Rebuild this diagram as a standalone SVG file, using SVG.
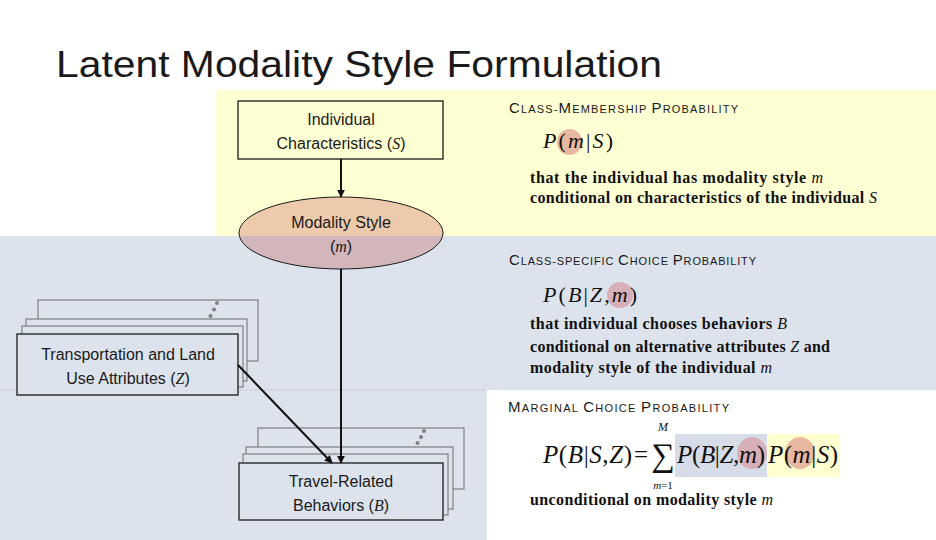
<svg xmlns="http://www.w3.org/2000/svg" width="936" height="540" viewBox="0 0 936 540">
<style>
.sans{font-family:"Liberation Sans",Arial,sans-serif;fill:#1a1a1a}
.lbl{font-size:16px;text-anchor:middle}
.ser{font-family:"Liberation Serif","Times New Roman",serif;fill:#111}
.body{font-size:16px;font-weight:bold}
.mi{font-style:italic;font-weight:normal}
.hdr{font-size:11px}
.big{font-size:15px}
.node{stroke:#1a1a1a;stroke-width:1.3}
.stack{stroke:#7f7f7f;stroke-width:1.2;fill:#dce3ed}
.dot{fill:#7f7f7f}
.conn{stroke:#111;stroke-width:2;fill:none;marker-end:url(#ah)}
.f{font-size:22px}
</style>
<defs>
<marker id="ah" viewBox="0 0 10 10" refX="9" refY="5" markerWidth="4" markerHeight="4" orient="auto" markerUnits="strokeWidth">
<path d="M0,0 L10,5 L0,10 z" fill="#111"/>
</marker>
</defs>
<rect x="0" y="0" width="936" height="540" fill="#ffffff"/>
<g id="backgrounds">
<rect x="216" y="90" width="720" height="146" fill="#ffffd4"/>
<rect x="0" y="236" width="936" height="154" fill="#dce3ed"/>
<rect x="0" y="390" width="487" height="150" fill="#dce3ed"/>
<line x1="0" y1="390" x2="487" y2="390" stroke="#c9ced6" stroke-width="1"/>
</g>
<text class="sans" x="56" y="77" font-size="36" textLength="606" lengthAdjust="spacingAndGlyphs">Latent Modality Style Formulation</text>

<g id="node-individual">
<rect class="node" x="238" y="101" width="205" height="58" fill="#ffffd4"/>
<text class="sans lbl" x="341" y="125">Individual</text>
<text class="sans lbl" x="341" y="149">Characteristics  (<tspan font-style="italic" font-family="Liberation Serif,serif">S</tspan>)</text>
</g>

<g id="node-modality">
<ellipse cx="341" cy="233" rx="102" ry="36" fill="#c0504d" fill-opacity="0.3" stroke="#1a1a1a" stroke-width="1"/>
<text class="sans lbl" x="341" y="228" fill="#333">Modality Style</text>
<text class="sans lbl" x="341" y="252">(<tspan font-style="italic" font-family="Liberation Serif,serif">m</tspan>)</text>
</g>

<g id="node-transport">
<rect class="stack" x="38" y="300" width="220" height="61"/>
<circle class="dot" cx="217" cy="303" r="2"/>
<circle class="dot" cx="214" cy="309.5" r="2"/>
<circle class="dot" cx="210.5" cy="316" r="2"/>
<rect class="stack" x="26" y="319" width="221" height="62"/>
<rect class="stack" x="22" y="326" width="221" height="61"/>
<rect class="node" x="17" y="334" width="221" height="61" fill="#dce3ed"/>
<text class="sans lbl" x="128" y="360">Transportation and Land</text>
<text class="sans lbl" x="128" y="384">Use Attributes (<tspan font-style="italic" font-family="Liberation Serif,serif">Z</tspan>)</text>
</g>

<g id="node-travel">
<rect class="stack" x="258" y="428" width="206" height="61"/>
<circle class="dot" cx="424" cy="431" r="2"/>
<circle class="dot" cx="421" cy="437" r="2"/>
<circle class="dot" cx="417.5" cy="443" r="2"/>
<rect class="stack" x="246" y="447" width="207" height="62"/>
<rect class="stack" x="243" y="454" width="205" height="61"/>
<rect class="node" x="239" y="463" width="204" height="57" fill="#dce3ed"/>
<text class="sans lbl" x="341" y="487">Travel-Related</text>
<text class="sans lbl" x="341" y="511">Behaviors (<tspan font-style="italic" font-family="Liberation Serif,serif">B</tspan>)</text>
</g>

<g id="connectors">
<line class="conn" x1="341" y1="159" x2="341" y2="197"/>
<line class="conn" x1="341" y1="269" x2="341" y2="463"/>
<line class="conn" x1="238" y1="365" x2="332" y2="463"/>
</g>

<g id="class-membership">
<text class="sans hdr" x="509" y="113" textLength="229"><tspan class="big">C</tspan>LASS-<tspan class="big">M</tspan>EMBERSHIP <tspan class="big">P</tspan>ROBABILITY</text>
<ellipse cx="569.5" cy="142" rx="12.5" ry="13" fill="#e8b9a0"/>
<text class="ser f" x="543" y="148" textLength="70"><tspan font-style="italic">P</tspan>(<tspan font-style="italic">m</tspan>|<tspan font-style="italic">S</tspan>)</text>
<text class="ser body" x="530" y="183" textLength="293">that the individual has modality style <tspan class="mi">m</tspan></text>
<text class="ser body" x="530" y="203" textLength="347">conditional on characteristics of the individual <tspan class="mi">S</tspan></text>
</g>

<g id="class-specific">
<text class="sans hdr" x="509" y="265" textLength="247"><tspan class="big">C</tspan>LASS-SPECIFIC <tspan class="big">C</tspan>HOICE <tspan class="big">P</tspan>ROBABILITY</text>
<ellipse cx="620" cy="295" rx="13" ry="13" fill="#d7afb9"/>
<text class="ser f" x="543" y="302" textLength="94"><tspan font-style="italic">P</tspan>(<tspan font-style="italic">B</tspan>|<tspan font-style="italic">Z</tspan>,<tspan font-style="italic">m</tspan>)</text>
<text class="ser body" x="530" y="329" textLength="257">that individual chooses behaviors <tspan class="mi">B</tspan></text>
<text class="ser body" x="530" y="352" textLength="300">conditional on alternative attributes <tspan class="mi">Z</tspan> and</text>
<text class="ser body" x="530" y="373" textLength="242">modality style of the individual <tspan class="mi">m</tspan></text>
</g>

<g id="marginal">
<text class="sans hdr" x="508" y="412" textLength="221"><tspan class="big">M</tspan>ARGINAL <tspan class="big">C</tspan>HOICE <tspan class="big">P</tspan>ROBABILITY</text>
<rect x="675" y="434" width="92" height="43" fill="#d6dde8"/>
<rect x="767" y="434" width="73" height="43" fill="#ffffcf"/>
<ellipse cx="752" cy="453" rx="15" ry="16" fill="#d7afb9"/>
<ellipse cx="800" cy="453" rx="15" ry="16" fill="#e8b9a0"/>
<text class="ser" font-size="25" x="543" y="463" textLength="89"><tspan font-style="italic">P</tspan>(<tspan font-style="italic">B</tspan>|<tspan font-style="italic">S</tspan>,<tspan font-style="italic">Z</tspan>)</text>
<text class="ser" font-size="25" x="641" y="463" text-anchor="middle">=</text>
<text class="ser" font-size="33" x="663" y="466" text-anchor="middle">∑</text>
<text class="ser" font-size="12" x="663" y="431" text-anchor="middle" font-style="italic">M</text>
<text class="ser" font-size="11" x="663" y="489" text-anchor="middle"><tspan font-style="italic">m</tspan>=1</text>
<text class="ser" font-size="25" x="677" y="463" textLength="88"><tspan font-style="italic">P</tspan>(<tspan font-style="italic">B</tspan>|<tspan font-style="italic">Z</tspan>,<tspan font-style="italic">m</tspan>)</text>
<text class="ser" font-size="25" x="768" y="463" textLength="70"><tspan font-style="italic">P</tspan>(<tspan font-style="italic">m</tspan>|<tspan font-style="italic">S</tspan>)</text>
<text class="ser body" x="530" y="505" textLength="243">unconditional on modality style <tspan class="mi">m</tspan></text>
</g>
</svg>
